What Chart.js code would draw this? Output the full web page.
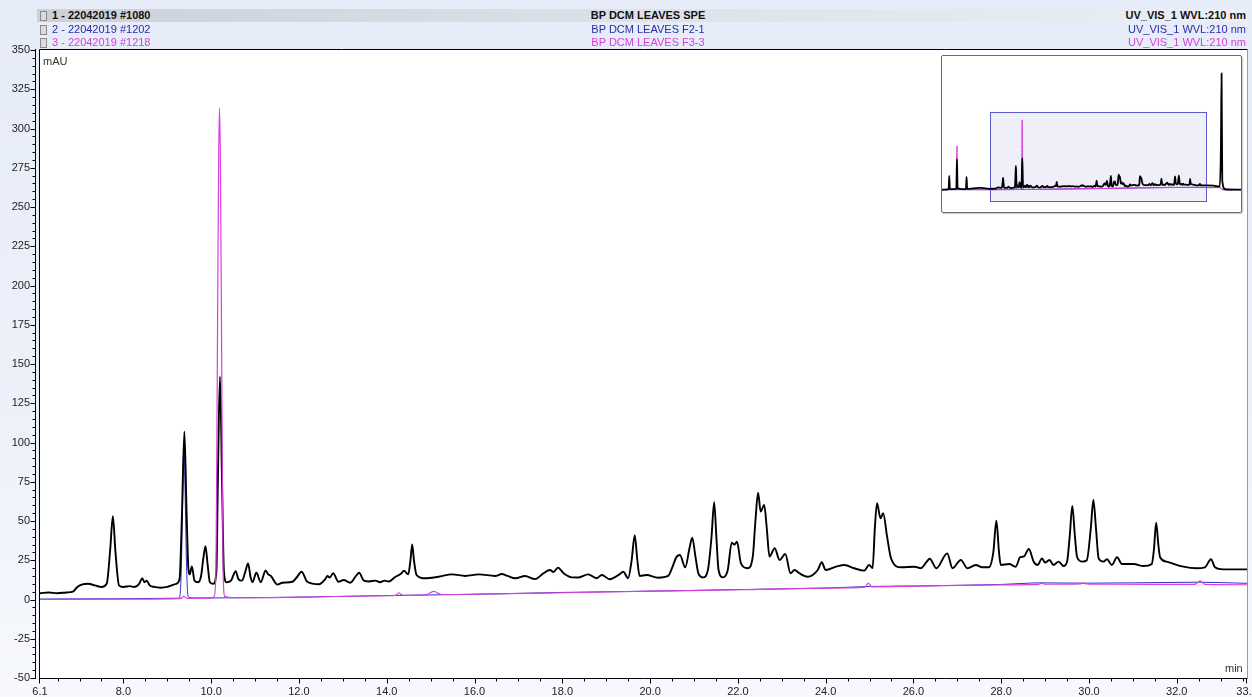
<!DOCTYPE html>
<html lang="en">

<head>
    <meta charset="UTF-8">
    <title>BP DCM LEAVES | UV_VIS_1 210 nm</title>
    <script src="https://cdn.jsdelivr.net/npm/chart.js@4.4.1/dist/chart.umd.min.js"></script>
    <style>
        body {
            margin: 0;
            width: 1252px;
            height: 697px;
            overflow: hidden;
            position: relative;
            font-family: "Liberation Sans", Arial, sans-serif;
            background: linear-gradient(to bottom, #e6ecf8 0%, #edf1fa 60%, #f7f9fd 100%);
        }

        #grafico { position: absolute; left: 0; top: 0; }

        .linha {
            position: absolute;
            left: 37px;
            width: 1212px;
            height: 13px;
            font-size: 11px;
            line-height: 13px;
        }

        .linha span { position: absolute; white-space: nowrap; }
        .l1 { top: 9px; font-weight: bold; color: #111; background: linear-gradient(to right, #cdd0d8, #e2e4ec 60%, #eceef5); }
        .l2 { top: 22.5px; color: #2b2ba8; }
        .l3 { top: 36px; color: #d83fd8; }
        .ico { left: 3px; top: 2px; width: 5px; height: 8px; border: 1px solid #8a8a8a; background: #dcdcdc; }
        .amostra { left: 15px; }
        .nome { left: 611px; transform: translateX(-50%); }
        .canal { right: 3px; }

        .unidade { position: absolute; font-size: 11px; color: #333; }

        #mini {
            position: absolute;
            left: 941px;
            top: 55px;
            width: 299px;
            height: 156px;
            border: 1px solid #6b6b6b;
            border-radius: 2px;
            background: #fff;
            box-shadow: 1px 1px 1px rgba(0, 0, 0, 0.2);
        }
    </style>
</head>

<body>
    <canvas id="grafico" width="1252" height="697"></canvas>

    <div class="linha l1"><span class="ico"></span><span class="amostra">1 - 22042019 #1080</span><span class="nome">BP DCM LEAVES SPE</span><span class="canal">UV_VIS_1 WVL:210 nm</span></div>
    <div class="linha l2"><span class="ico"></span><span class="amostra">2 - 22042019 #1202</span><span class="nome">BP DCM LEAVES F2-1</span><span class="canal">UV_VIS_1 WVL:210 nm</span></div>
    <div class="linha l3"><span class="ico"></span><span class="amostra">3 - 22042019 #1218</span><span class="nome">BP DCM LEAVES F3-3</span><span class="canal">UV_VIS_1 WVL:210 nm</span></div>

    <div class="unidade" style="left:43px; top:55px;">mAU</div>
    <div class="unidade" style="left:1225px; top:662px;">min</div>

    <div id="mini"><canvas id="grafico_mini" width="299" height="156"></canvas></div>

    <script>
        // axis window of the main plot
        const xMin = 6.1, xMax = 33.6;
        const yMin = -50, yMax = 350;
        const xTickLabels = [6.1, 8, 10, 12, 14, 16, 18, 20, 22, 24, 26, 28, 30, 32, 33.6];
        const yTickLabels = [-50, -25, 0, 25, 50, 75, 100, 125, 150, 175, 200, 225, 250, 275, 300, 325, 350];

        // 1 - BP DCM LEAVES SPE (black), time in min / absorbance in mAU
        const speTime = [
            6.10, 6.30, 6.50, 6.70, 6.85, 6.95, 7.05, 7.20, 7.35, 7.50,
            7.62, 7.70, 7.76, 7.82, 7.90, 8.00, 8.15, 8.25, 8.36, 8.43,
            8.48, 8.53, 8.60, 8.70, 8.85, 9.00, 9.10, 9.20, 9.28, 9.33,
            9.39, 9.44, 9.48, 9.51, 9.56, 9.62, 9.70, 9.77, 9.82, 9.87,
            9.92, 9.97, 10.05, 10.12, 10.15, 10.20, 10.25, 10.29, 10.35, 10.45,
            10.56, 10.62, 10.70, 10.78, 10.84, 10.90, 10.94, 11.03, 11.13, 11.24,
            11.30, 11.36, 11.51, 11.62, 11.85, 11.96, 12.06, 12.19, 12.46, 12.60,
            12.65, 12.70, 12.78, 12.90, 13.02, 13.17, 13.30, 13.37, 13.48, 13.60,
            13.74, 13.85, 13.95, 14.05, 14.20, 14.33, 14.39, 14.49, 14.54, 14.58,
            14.62, 14.68, 14.88, 15.18, 15.49, 15.79, 16.10, 16.47, 16.62, 16.75,
            16.93, 17.15, 17.38, 17.57, 17.72, 17.80, 17.90, 18.03, 18.21, 18.37,
            18.59, 18.78, 18.90, 19.08, 19.30, 19.39, 19.50, 19.58, 19.65, 19.71,
            19.76, 19.92, 20.18, 20.41, 20.50, 20.60, 20.68, 20.80, 20.90, 20.96,
            21.03, 21.10, 21.21, 21.32, 21.40, 21.46, 21.51, 21.56, 21.66, 21.77,
            21.86, 21.92, 21.98, 22.07, 22.22, 22.34, 22.40, 22.46, 22.52, 22.60,
            22.66, 22.72, 22.84, 22.95, 23.08, 23.20, 23.29, 23.40, 23.59, 23.82,
            23.91, 24.00, 24.24, 24.43, 24.65, 24.88, 24.99, 25.07, 25.12, 25.17,
            25.25, 25.31, 25.40, 25.49, 25.72, 26.02, 26.17, 26.30, 26.37, 26.52,
            26.77, 26.89, 27.08, 27.23, 27.42, 27.57, 27.72, 27.82, 27.89, 27.95,
            27.99, 28.18, 28.33, 28.43, 28.52, 28.63, 28.74, 28.83, 28.93, 29.00,
            29.10, 29.19, 29.31, 29.42, 29.50, 29.56, 29.62, 29.68, 29.73, 29.85,
            29.95, 30.04, 30.10, 30.16, 30.22, 30.33, 30.41, 30.52, 30.64, 30.75,
            31.02, 31.24, 31.43, 31.48, 31.53, 31.58, 31.62, 31.77, 32.15, 32.45,
            32.64, 32.78, 32.87, 33.06, 33.60
        ];
        const speAbs = [
            4, 4.5, 4, 4.5, 5, 8, 9.5, 10, 9, 8,
            10, 32, 53, 30, 9, 8, 8.5, 8, 10, 13.5,
            11, 12, 9, 8, 7.5, 8, 9, 10, 13, 50,
            107, 55, 20, 16, 21, 12, 11, 15, 26, 34,
            22, 11, 10, 18, 71, 142, 71, 18, 11, 12,
            18, 13, 12, 18, 23, 14, 11, 17, 11, 18.5,
            16, 15, 9.5, 10.7, 11.3, 14.5, 17.7, 11.3, 9.7, 13,
            15, 14, 16.7, 11.3, 12.4, 10.7, 15, 17, 12, 11.5,
            12, 11, 12, 11.5, 14.5, 16.5, 18.4, 16, 25, 35,
            25, 15.6, 13.5, 14.5, 16, 15, 16, 15, 16.2, 15,
            13.5, 15, 13, 16.7, 18.8, 17.5, 20.3, 16.7, 14.1, 14,
            16, 13.5, 15.6, 12.9, 16, 17.7, 13.5, 25, 41, 25,
            15, 15.6, 13.9, 15, 20, 27, 28.3, 20.5, 33, 39.4,
            28, 16.7, 14.1, 19.2, 40, 62, 40, 18.8, 14.1, 18.8,
            36.2, 35, 36.8, 23, 19.9, 27.3, 50, 68, 56, 60.2,
            45, 27.3, 32.6, 25.2, 29, 16.7, 18.8, 16.7, 14.5, 18.8,
            23.7, 18.8, 20.9, 22, 19.9, 18.4, 22, 20, 45, 61.3,
            51.7, 54.9, 40, 26.2, 20.5, 20.9, 19.9, 24, 26, 19.9,
            29.4, 19.9, 25.2, 19.9, 22, 20.5, 20.5, 30, 50.2, 30,
            22, 22.6, 20.9, 26.9, 27.5, 32.2, 24.1, 22, 26.2, 23.5,
            25.2, 22, 24.1, 21.3, 24, 40, 59.6, 40, 26.9, 24.1,
            25, 45, 63.4, 45, 26.2, 24.1, 25.6, 22, 26.9, 22.6,
            22.6, 21.3, 22.6, 32, 48.9, 35, 26.9, 24.1, 20.9, 19.9,
            20.5, 25.6, 20.5, 19.2, 19.2
        ];

        // 2 - BP DCM LEAVES F2-1 (blue)
        const f21Time = [6.10, 8.00, 9.20, 9.28, 9.32, 9.345, 9.38, 9.415, 9.44, 9.48, 9.60, 10.00, 12.00, 14.00,
            16.00, 18.00, 20.00, 22.00, 24.00, 25.00, 26.00, 28.00, 28.90, 30.00, 31.00, 32.50, 33.60];
        const f21Abs = [0.3, 0.5, 0.8, 1, 20, 55, 95, 55, 20, 1.5, 1, 1, 1.5, 2.5,
            3.3, 4.5, 5.3, 6.3, 7.3, 8.3, 8.6, 9.6, 10.6, 10.4, 10.6, 11, 10.3];

        // 3 - BP DCM LEAVES F3-3 (magenta)
        const f33Time = [6.10, 8.00, 9.30, 9.38, 9.46, 10.00, 10.07, 10.11, 10.14, 10.17, 10.19, 10.21, 10.24, 10.27, 10.31,
            10.50, 12.00, 14.00, 14.20, 14.27, 14.36, 14.90, 15.07, 15.25, 16.00, 18.00, 20.00, 22.00, 24.00, 24.90,
            24.97, 25.05, 26.00, 28.00, 28.85, 28.92, 29.00, 29.80, 29.87, 29.94, 30.50, 32.40, 32.53, 32.64, 33.60];
        const f33Abs = [0, 0.3, 0.6, 2, 0.7, 0.9, 2, 20, 150, 280, 313, 280, 150, 20, 2,
            1.1, 1.5, 2.4, 2.6, 4.3, 2.7, 3.0, 5.2, 3.2, 3.4, 4.3, 5.3, 6.2, 7.3, 7.9,
            10.5, 8.1, 8.5, 9.3, 9.6, 10.4, 9.7, 9.9, 10.6, 9.9, 9.7, 9.6, 11.8, 9.6, 9.4];

        // parts of the run outside the main window, only seen in the overview box
        const speTimeBefore = [0.00, 0.60, 0.85, 0.92, 1.00, 1.70, 1.83, 1.90, 1.98, 2.60, 3.05, 3.12, 3.20, 4.00, 5.00, 6.00];
        const speAbsBefore = [0, 1, 4, 62, 3, 3, 10, 137, 6, 3, 4, 58, 4, 6, 8, 4];
        const speTimeAfter = [34.50, 35.30, 35.45, 35.53, 35.62, 36.00, 38.00];
        const speAbsAfter = [18, 15, 200, 522, 40, 2, 0];
        const f21TimeBefore = [0.00, 6.00];
        const f21AbsBefore = [0, 0.3];
        const f21TimeAfter = [35.30, 35.70, 38.00];
        const f21AbsAfter = [10, 0, 0];
        const f33TimeBefore = [0.00, 1.80, 1.90, 2.00, 6.00];
        const f33AbsBefore = [0, 1, 197, 1, 0];
        const f33TimeAfter = [35.30, 35.70, 38.00];
        const f33AbsAfter = [9, 0, 0];

        const fonte = { family: '"Liberation Sans", Arial, sans-serif', size: 11 };

        function pontos(tempos, valores) {
            return tempos.map(function (t, i) { return { x: t, y: valores[i] }; });
        }

        // white plot area, frame and the minor/major tick marks
        const moldura = {
            id: 'moldura',
            beforeDraw(chart) {
                const { ctx, chartArea: a } = chart;
                ctx.save();
                ctx.fillStyle = '#fff';
                ctx.fillRect(a.left, a.top, a.right - a.left, a.bottom - a.top);
                ctx.restore();
            },
            afterDraw(chart) {
                const { ctx, chartArea: a, scales } = chart;
                ctx.save();
                ctx.strokeStyle = '#000';
                ctx.lineWidth = 1;
                ctx.beginPath();
                ctx.moveTo(a.left - 0.5, a.bottom + 0.5);
                ctx.lineTo(a.left - 0.5, a.top - 0.5);
                ctx.lineTo(a.right + 0.5, a.top - 0.5);
                ctx.moveTo(a.left - 1, a.bottom + 0.5);
                ctx.lineTo(a.right + 0.5, a.bottom + 0.5);
                // y axis with ticks every 5 mAU
                const ax = a.left - 4.5;
                ctx.moveTo(ax, a.top - 1);
                ctx.lineTo(ax, a.bottom + 1);
                for (let v = yMin; v <= yMax; v += 5) {
                    const py = Math.round(scales.y.getPixelForValue(v)) + 0.5;
                    ctx.moveTo(ax, py);
                    ctx.lineTo(ax - (v % 25 === 0 ? 5 : 3), py);
                }
                // x axis ticks every 0.5 min
                const ay = a.bottom + 0.5;
                for (let v = 6.5; v < xMax; v += 0.5) {
                    const px = Math.round(scales.x.getPixelForValue(v)) + 0.5;
                    ctx.moveTo(px, ay);
                    ctx.lineTo(px, ay + (v % 2 === 0 ? 5 : 3));
                }
                [xMin, xMax].forEach(function (v) {
                    const px = Math.round(scales.x.getPixelForValue(v)) - 0.5;
                    ctx.moveTo(px, ay);
                    ctx.lineTo(px, ay + 5);
                });
                ctx.stroke();
                ctx.strokeStyle = '#9a9a9a';
                ctx.beginPath();
                ctx.moveTo(a.right + 0.5, a.top);
                ctx.lineTo(a.right + 0.5, a.bottom);
                ctx.stroke();
                ctx.restore();
            }
        };

        const config = {
            type: 'line',
            data: {
                datasets: [
                    {
                        label: '1 - 22042019 #1080',
                        data: pontos(speTime, speAbs),
                        borderColor: '#000',
                        borderWidth: 1.9,
                        order: 1
                    },
                    {
                        label: '2 - 22042019 #1202',
                        data: pontos(f21Time, f21Abs),
                        borderColor: '#3030c4',
                        borderWidth: 1,
                        order: 2
                    },
                    {
                        label: '3 - 22042019 #1218',
                        data: pontos(f33Time, f33Abs),
                        borderColor: '#d840dc',
                        borderWidth: 1.2,
                        order: 0
                    }
                ]
            },
            options: {
                responsive: false,
                animation: false,
                elements: {
                    point: { radius: 0 },
                    line: { cubicInterpolationMode: 'monotone' }
                },
                layout: { padding: { top: 50, right: 5, left: 0, bottom: 0 } },
                plugins: { legend: { display: false }, tooltip: { enabled: false } },
                scales: {
                    x: {
                        type: 'linear',
                        min: xMin,
                        max: xMax,
                        afterBuildTicks: function (s) { s.ticks = xTickLabels.map(function (v) { return { value: v }; }); },
                        afterFit: function (s) { s.height = 19; s.paddingLeft = 0; s.paddingRight = 0; },
                        ticks: {
                            autoSkip: false, maxRotation: 0, padding: 3, color: '#222', font: fonte,
                            callback: function (v) { return Number(v).toFixed(1); }
                        },
                        grid: { drawOnChartArea: false, tickLength: 4, tickColor: 'rgba(0,0,0,0)' },
                        border: { display: false }
                    },
                    y: {
                        min: yMin,
                        max: yMax,
                        afterBuildTicks: function (s) { s.ticks = yTickLabels.map(function (v) { return { value: v }; }); },
                        afterFit: function (s) { s.width = 40; },
                        ticks: { padding: 4, color: '#222', font: fonte },
                        grid: { drawOnChartArea: false, tickLength: 6, tickColor: 'rgba(0,0,0,0)' },
                        border: { display: false }
                    }
                }
            },
            plugins: [moldura]
        };

        new Chart(document.getElementById('grafico'), config);

        // shaded box marking the zoomed window inside the overview
        const janela = {
            id: 'janela',
            beforeDatasetsDraw(chart) {
                const { ctx, scales: { x, y } } = chart;
                const l = x.getPixelForValue(xMin), r = x.getPixelForValue(xMax);
                const t = y.getPixelForValue(yMax), b = y.getPixelForValue(yMin);
                ctx.save();
                ctx.fillStyle = '#efeffa';
                ctx.fillRect(l, t, r - l, b - t);
                ctx.strokeStyle = '#5c5cd0';
                ctx.lineWidth = 1;
                ctx.strokeRect(Math.round(l) + 0.5, Math.round(t) + 0.5, Math.round(r - l), Math.round(b - t));
                ctx.restore();
            }
        };

        const configMini = {
            type: 'line',
            data: {
                datasets: [
                    {
                        data: pontos(speTimeBefore.concat(speTime, speTimeAfter), speAbsBefore.concat(speAbs, speAbsAfter)),
                        borderColor: '#000', borderWidth: 1.8, order: 0
                    },
                    {
                        data: pontos(f21TimeBefore.concat(f21Time, f21TimeAfter), f21AbsBefore.concat(f21Abs, f21AbsAfter)),
                        borderColor: '#3030c4', borderWidth: 1, order: 2
                    },
                    {
                        data: pontos(f33TimeBefore.concat(f33Time, f33TimeAfter), f33AbsBefore.concat(f33Abs, f33AbsAfter)),
                        borderColor: '#d840dc', borderWidth: 1, order: 1
                    }
                ]
            },
            options: {
                responsive: false,
                animation: false,
                elements: { point: { radius: 0 }, line: { cubicInterpolationMode: 'monotone' } },
                layout: { padding: 0 },
                plugins: { legend: { display: false }, tooltip: { enabled: false } },
                scales: {
                    x: { type: 'linear', min: 0, max: 38, display: false },
                    y: { min: -100, max: 600, display: false }
                }
            },
            plugins: [janela]
        };

        new Chart(document.getElementById('grafico_mini'), configMini);
    </script>
</body>

</html>
